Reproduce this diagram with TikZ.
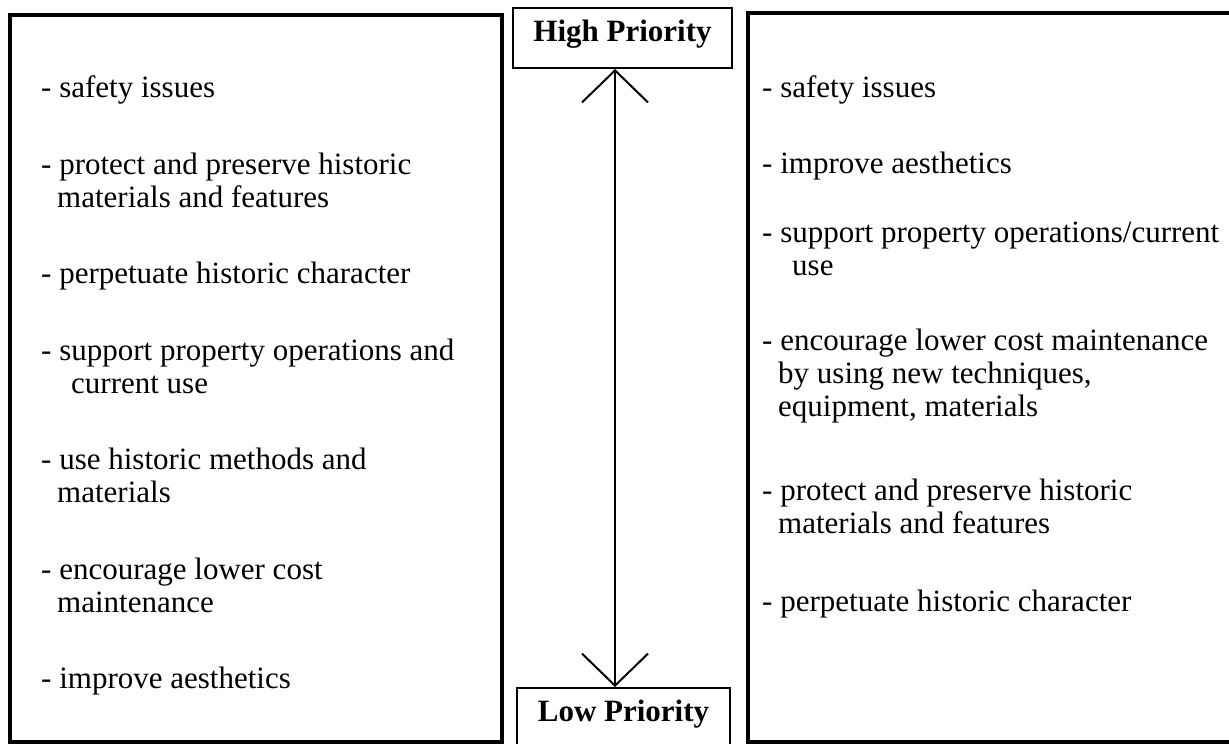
\documentclass[tikz,border=0pt]{standalone}
\usepackage{fontspec}
\setmainfont{Liberation Serif}
\usetikzlibrary{arrows.meta}

\begin{document}
\begin{tikzpicture}[
  x=1pt, y=-1pt,
  panel/.style={draw,line width=4pt},
  tag/.style={draw,line width=2pt,inner ysep=11pt,text height=22pt,
    font=\bfseries\fontsize{31}{33}\selectfont},
  entry/.style={anchor=base west,align=left,inner sep=0pt,
    font=\fontsize{31}{33}\selectfont},
  priority/.style={{Straight Barb[length=32pt,width=66pt]}-{Straight Barb[length=32pt,width=66pt]},line width=2pt}
]
  \useasboundingbox (0,0) rectangle (1229,744);

  % the two lists
  \draw[panel] (10,15) rectangle (502,742);
  \draw[panel] (747.5,12.5) rectangle (1245,742);

  % priority scale in the middle
  \node[tag,text depth=15pt,minimum height=60pt,minimum width=219pt] (high) at (622.5,38) {High Priority};
  \node[tag,text depth=20pt,minimum width=213pt,anchor=north] (low) at (623.5,687) {Low Priority};
  \draw[priority] ([xshift=-7.5pt]high.south) -- ([xshift=-8.5pt]low.north);

  % left list (base = last line)
  \node[entry] (L1) at (41,97) {- safety issues};
  \node[entry] (L2) at (41,207) {- protect and preserve historic\\\hspace*{16pt}materials and features};
  \node[entry] (L3) at (41,283) {- perpetuate historic character};
  \node[entry] (L4) at (41,393) {- support property operations and\\\hspace*{30pt}current use};
  \node[entry] (L5) at (41,502) {- use historic methods and\\\hspace*{16pt}materials};
  \node[entry] (L6) at (41,612) {- encourage lower cost\\\hspace*{16pt}maintenance};
  \node[entry] (L7) at (41,688) {- improve aesthetics};

  % right list
  \node[entry] (R1) at (762,97) {- safety issues};
  \node[entry] (R2) at (762,173) {- improve aesthetics};
  \node[entry] (R3) at (762,275) {- support property operations/current\\\hspace*{30pt}use};
  \node[entry] (R4) at (762,416) {- encourage lower cost maintenance\\\hspace*{16pt}by using new techniques,\\\hspace*{16pt}equipment, materials};
  \node[entry] (R5) at (762,533) {- protect and preserve historic\\\hspace*{16pt}materials and features};
  \node[entry] (R6) at (762,611) {- perpetuate historic character};
\end{tikzpicture}
\end{document}
